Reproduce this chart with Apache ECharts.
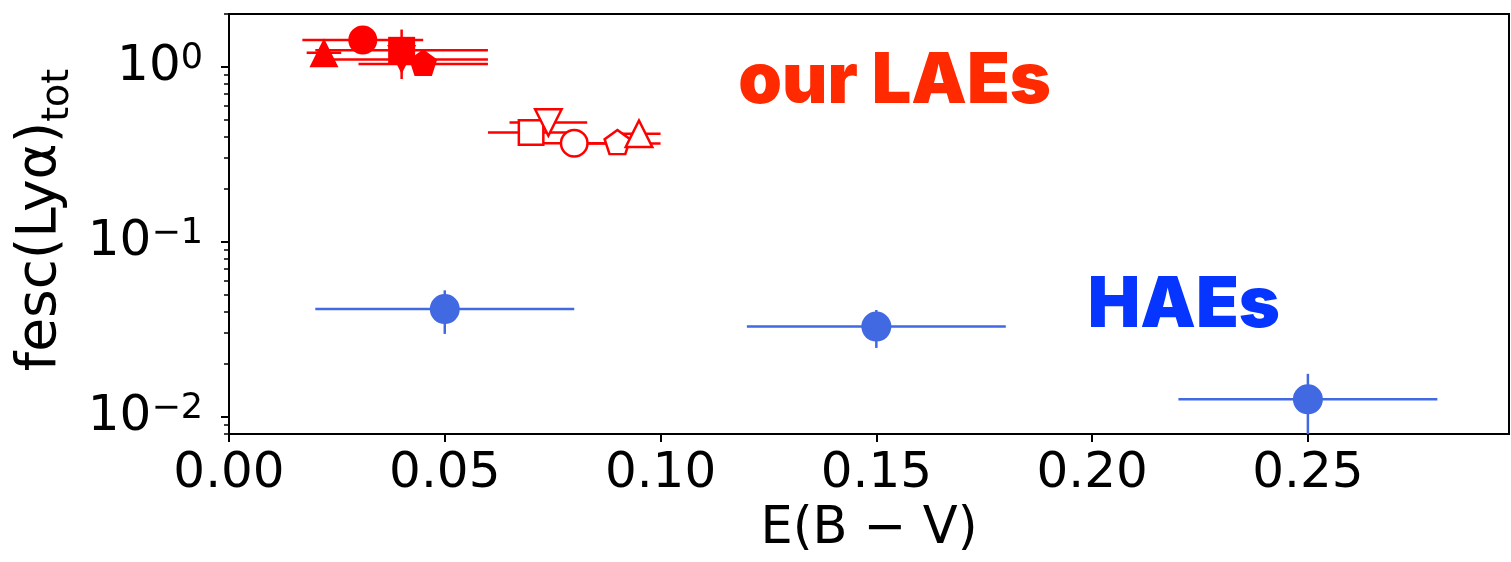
<!DOCTYPE html>
<html>
<head>
<meta charset="utf-8">
<script src="https://cdn.jsdelivr.net/npm/echarts@6/dist/echarts.min.js"></script>
<style>
html,body{margin:0;padding:0;background:#fff;}
#chart{width:1511px;height:562px;}
</style>
</head>
<body>
<div id="chart"></div>
<script>
// ---- data ----
const xTicks = [0, 0.05, 0.10, 0.15, 0.20, 0.25];
const yMajorTicks = [0.01, 0.1, 1];
const yMinorTicks = [0.008, 0.009, 0.02, 0.03, 0.04, 0.05, 0.06, 0.07, 0.08, 0.09,
                     0.2, 0.3, 0.4, 0.5, 0.6, 0.7, 0.8, 0.9, 2];

// our LAEs (filled markers)
const laeFilledShape = ['triangle', 'circle', 'rect', 'invTriangle', 'pentagon'];
const laeFilledX     = [0.022, 0.031, 0.040, 0.040, 0.045];
const laeFilledY     = [1.20, 1.42, 1.24, 1.10, 1.035];
const laeFilledXerr  = [0.004, 0.014, 0.020, 0.020, 0.015];
const laeFilledYerr  = [0, 0, 0.39, 0, 0];

// our LAEs (open markers)
const laeOpenShape = ['rect', 'invTriangle', 'circle', 'pentagon', 'triangle'];
const laeOpenX     = [0.070, 0.074, 0.080, 0.090, 0.095];
const laeOpenY     = [0.421, 0.48, 0.365, 0.364, 0.414];
const laeOpenXerr  = [0.010, 0.009, 0.010, 0.010, 0.005];
const laeOpenYerr  = [0, 0, 0, 0, 0];

// HAEs
const haeX    = [0.05, 0.15, 0.25];
const haeY    = [0.0412, 0.0327, 0.01257];
const haeXerr = [0.03, 0.03, 0.03];
const haeYerr = [0.0115, 0.008, 0.005];

// annotations
const annotText = ['our LAEs', 'HAEs'];
const annotX    = [0.118, 0.199];
const annotY    = [0.818, 0.0432];

// ---- styles ----
const RED = '#ff0000';
const BLUE = '#4169e1';
const FONT = 'DejaVu Sans';
const SYMBOLS = {
  triangle: {symbol: 'triangle', size: 29, offset: [0, 0]},
  circle: {symbol: 'circle', size: 29, offset: [0, 0]},
  rect: {symbol: 'rect', size: 27, offset: [0, 0]},
  invTriangle: {symbol: 'path://M0,0L2,0L1,2Z', size: 29, offset: [0, 0]},
  pentagon: {symbol: 'path://M0.951,0L1.902,0.691L1.539,1.809L0.363,1.809L0,0.691Z', size: [28, 26.6], offset: [0, -1.4]}
};

function errSeries(xs, ys, xe, ye, color) {
  return {
    type: 'custom',
    clip: true,
    z: 2,
    silent: true,
    encode: {x: 0, y: 1},
    data: xs.map((x, i) => [x, ys[i], xe[i], ye[i]]),
    renderItem: function (params, api) {
      const x = api.value(0), y = api.value(1), dx = api.value(2), dy = api.value(3);
      const style = {stroke: color, lineWidth: 2.5};
      const children = [];
      if (dx > 0) {
        const a = api.coord([x - dx, y]), b = api.coord([x + dx, y]);
        children.push({type: 'line', shape: {x1: a[0], y1: a[1], x2: b[0], y2: b[1]}, style: style});
      }
      if (dy > 0) {
        const a = api.coord([x, y - dy]), b = api.coord([x, y + dy]);
        children.push({type: 'line', shape: {x1: a[0], y1: a[1], x2: b[0], y2: b[1]}, style: style});
      }
      return {type: 'group', children: children};
    }
  };
}

function markerSeries(shapes, xs, ys, filled, color) {
  const out = [];
  shapes.forEach((s, i) => {
    const def = SYMBOLS[s];
    let size = def.size;
    if (!filled) size = Array.isArray(size) ? size.map(v => v - 2.5) : size - 2.5;
    out.push({
      type: 'scatter',
      z: 5,
      silent: true,
      symbol: def.symbol,
      symbolSize: size,
      symbolOffset: def.offset,
      itemStyle: filled ? {color: color, opacity: 1} :
        {color: '#ffffff', borderColor: color, borderWidth: 2.5, opacity: 1},
      data: [[xs[i], ys[i]]]
    });
  });
  return out;
}

const series = [];
series.push(errSeries(laeFilledX, laeFilledY, laeFilledXerr, laeFilledYerr, RED));
series.push(errSeries(laeOpenX, laeOpenY, laeOpenXerr, laeOpenYerr, RED));
series.push(errSeries(haeX, haeY, haeXerr, haeYerr, BLUE));
series.push(...markerSeries(laeFilledShape, laeFilledX, laeFilledY, true, RED));
series.push(...markerSeries(laeOpenShape, laeOpenX, laeOpenY, false, RED));
series.push({
  type: 'scatter', z: 5, silent: true, symbol: 'circle', symbolSize: 30,
  itemStyle: {color: BLUE, opacity: 1},
  data: haeX.map((x, i) => [x, haeY[i]])
});
const annotColors = ['#ff2a00', '#0535ff'];
annotText.forEach((t, i) => {
  series.push({
    type: 'scatter', z: 6, silent: true, symbolSize: 0,
    itemStyle: {opacity: 1},
    data: [[annotX[i], annotY[i]]],
    label: {
      show: true, position: [0, 0], align: 'left', verticalAlign: 'middle',
      formatter: t, color: annotColors[i], opacity: 1,
      fontFamily: 'Inter', fontWeight: 900, fontSize: 70
    }
  });
});

const chart = echarts.init(document.getElementById('chart'), null, {renderer: 'canvas'});
chart.setOption({
  animation: false,
  backgroundColor: '#ffffff',
  grid: {left: 229, right: 2, top: 14, bottom: 128, show: true, borderColor: '#000', borderWidth: 2, backgroundColor: 'transparent'},
  xAxis: {
    type: 'value', min: 0, max: 0.2966,
    name: 'E(B − V)', nameLocation: 'middle', nameGap: 70,
    nameTextStyle: {fontFamily: FONT, fontSize: 51, color: '#000'},
    axisLine: {show: true, lineStyle: {color: '#000', width: 2}},
    axisTick: {show: true, customValues: xTicks, length: 8, lineStyle: {color: '#000', width: 2}},
    axisLabel: {customValues: xTicks, formatter: v => v.toFixed(2), fontFamily: FONT, fontSize: 50, color: '#000', margin: 15},
    splitLine: {show: false}
  },
  yAxis: [{
    type: 'log', min: 0.00796, max: 2.0, logBase: 10,
    name: '{m|fesc(Lyα)}{s|tot}', nameLocation: 'middle', nameRotate: 90, nameGap: 140,
    nameTextStyle: {
      padding: [0, 0, 0, 8],
      rich: {
        m: {fontFamily: FONT, fontSize: 55, color: '#000', lineHeight: 64, verticalAlign: 'top'},
        s: {fontFamily: FONT, fontSize: 38, color: '#000', lineHeight: 38, verticalAlign: 'bottom'}
      }
    },
    axisLine: {show: true, lineStyle: {color: '#000', width: 2}},
    axisTick: {show: true, customValues: yMajorTicks, length: 8, lineStyle: {color: '#000', width: 2}},
    axisLabel: {
      customValues: yMajorTicks, margin: 26,
      formatter: function (v) {
        const e = Math.round(Math.log10(v));
        return '{b|10}{s|' + (e < 0 ? '−' + (-e) : String(e)) + '}';
      },
      rich: {
        b: {fontFamily: FONT, fontSize: 50, color: '#000', lineHeight: 50},
        s: {fontFamily: FONT, fontSize: 35, color: '#000', lineHeight: 21, verticalAlign: 'top'}
      }
    },
    splitLine: {show: false},
    minorTick: {show: false}
  }, {
    type: 'log', min: 0.00796, max: 2.0, logBase: 10, position: 'left',
    axisLine: {show: false},
    axisTick: {show: true, customValues: yMinorTicks, length: 5, lineStyle: {color: '#000', width: 1.5}},
    axisLabel: {show: false},
    splitLine: {show: false}
  }],
  series: series
});
</script>
</body>
</html>
